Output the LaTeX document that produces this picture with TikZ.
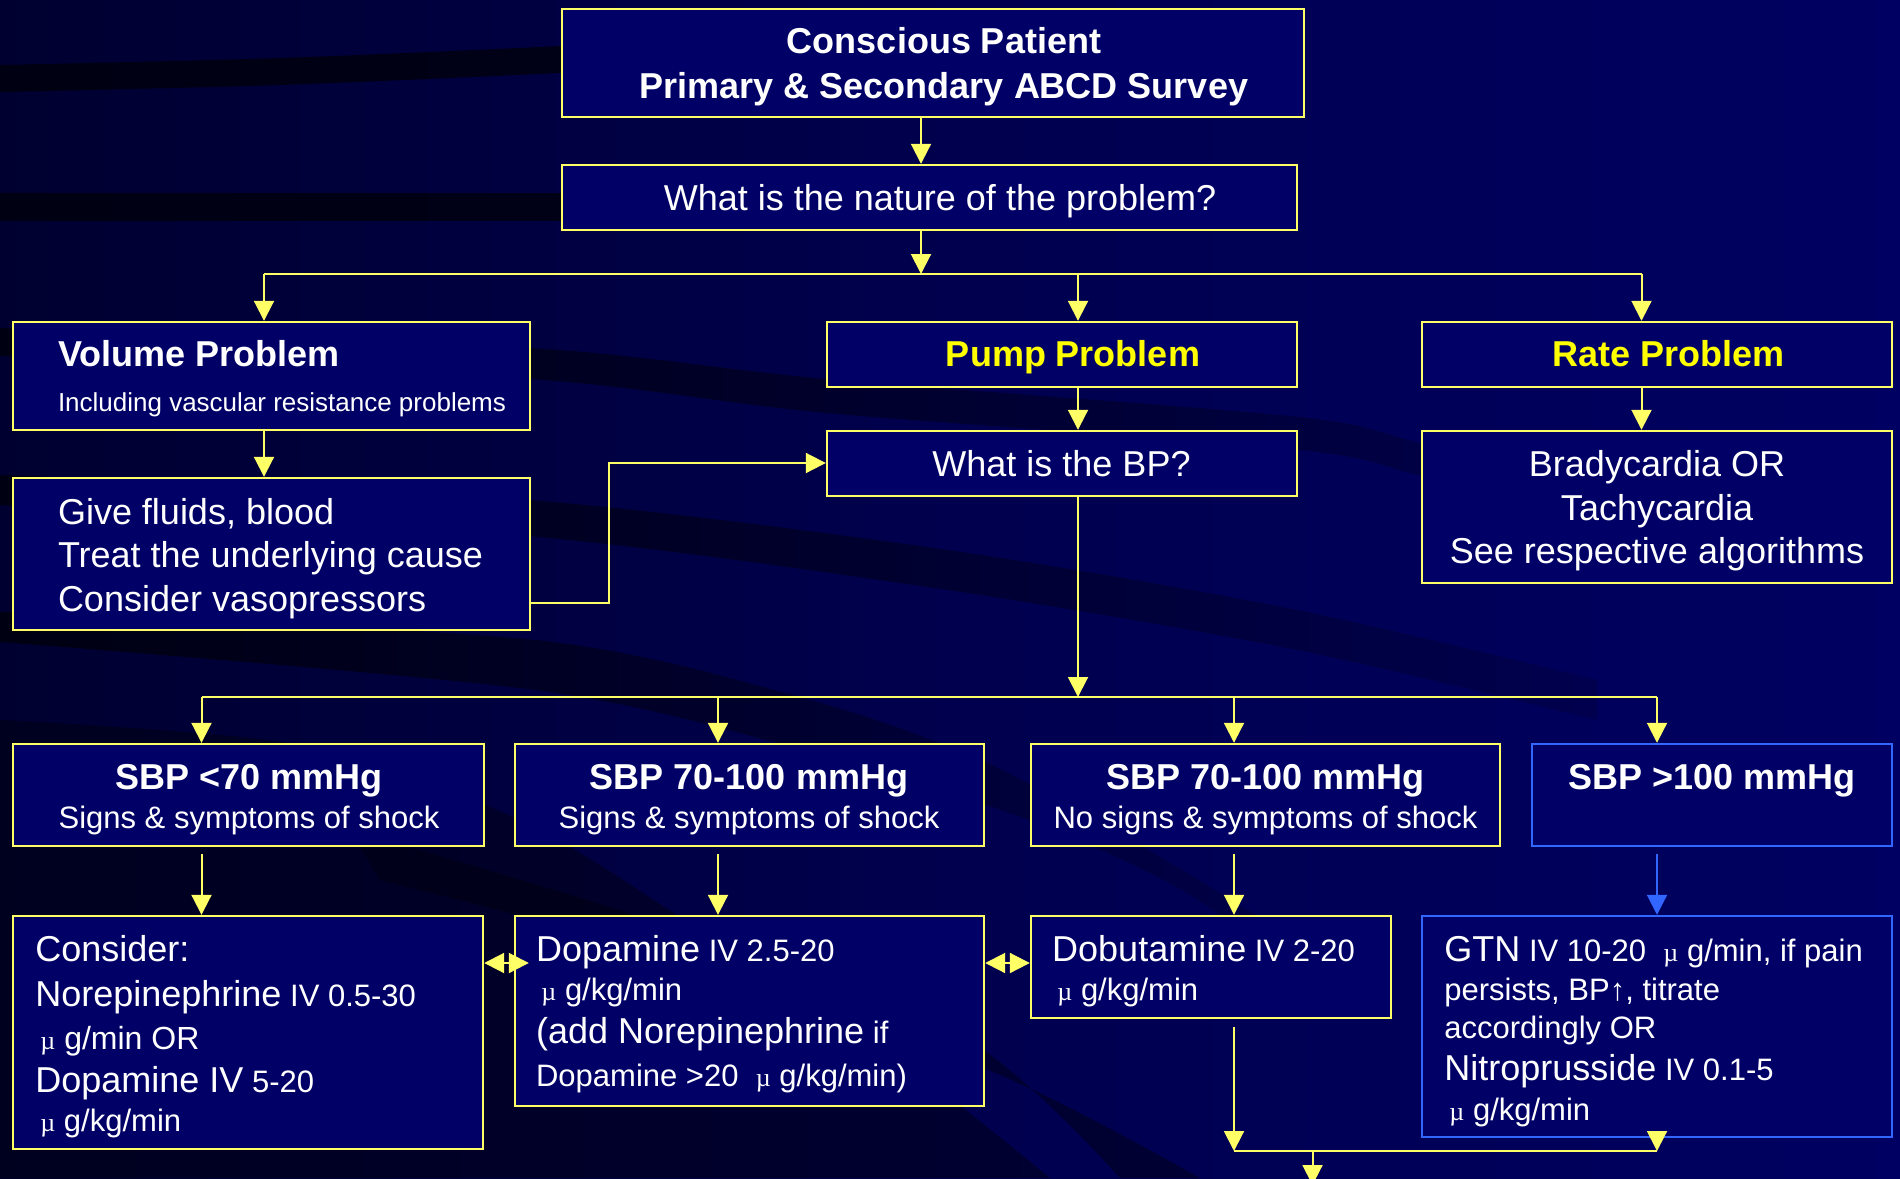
\documentclass[tikz,border=0pt]{standalone}
\usepackage{fontspec}
\setmainfont{Liberation Sans}
\newfontfamily\muface{Liberation Serif}
\usetikzlibrary{arrows.meta,calc,fit,fadings}

\definecolor{bgdark}{RGB}{0,0,48}
\definecolor{bgmid}{RGB}{0,0,78}
\definecolor{bglight}{RGB}{0,0,98}
\definecolor{swoosh}{RGB}{0,0,12}
\definecolor{boxfill}{RGB}{0,0,102}
\definecolor{lineyellow}{RGB}{255,255,102}
\definecolor{titleyellow}{RGB}{255,255,0}
\definecolor{lineblue}{RGB}{51,102,255}

\newcommand\szL{\fontsize{18}{21}\selectfont}
\newcommand\szM{\fontsize{16}{19}\selectfont}
\newcommand\szS{\fontsize{15.5}{18}\selectfont}
\newcommand\szX{\fontsize{13}{15}\selectfont}
\newcommand\mug{{\muface\fontsize{13}{15}\selectfont µ}}

\tikzfading[name=bandfade, left color=transparent!20, right color=transparent!85]

\tikzset{
  box/.style={draw=lineyellow, line width=1.2pt, fill=boxfill, inner sep=0pt},
  bluebox/.style={box, draw=lineblue},
  wire/.style={draw=lineyellow, line width=1pt},
  arr/.style={wire, -{Triangle[length=10pt,width=10pt]}},
  bluearr/.style={draw=lineblue, line width=1pt, -{Triangle[length=10pt,width=10pt]}},
  dblarr/.style={wire, {Triangle[length=10pt,width=10pt]}-{Triangle[length=10pt,width=10pt]}},
  lbl/.style={inner sep=0pt, text=white, anchor=base},
  lblw/.style={lbl, anchor=base west},
  band/.style={fill=swoosh, path fading=bandfade},
  softband/.style={fill=swoosh, opacity=0.45},
}

\begin{document}
\begin{tikzpicture}[x=0.5pt, y=-0.5pt]
\useasboundingbox (0,0) rectangle (1900,1178);

% backdrop and dark swooshes
\shade[left color=bgdark, right color=bglight, middle color=bgmid] (0,0) rectangle (1900,1178);
\fill[swoosh, opacity=0.8] plot[smooth] coordinates {(0,65) (280,58) (560,46) (640,40)}
  -- plot[smooth] coordinates {(640,68) (560,73) (280,85) (0,92)} -- cycle;
\fill[swoosh, opacity=0.8] (0,193) rectangle (640,221);
\fill[band] plot[smooth] coordinates {(0,328) (530,348) (827,379) (1300,417) (1430,445) (1700,500)}
  -- plot[smooth] coordinates {(1700,540) (1430,478) (1300,450) (827,413) (530,379) (0,356)} -- cycle;
\fill[band] plot[smooth] coordinates {(0,475) (530,500) (950,550) (1300,610) (1600,680)}
  -- plot[smooth] coordinates {(1600,720) (1300,650) (950,590) (530,536) (0,505)} -- cycle;
\fill[band] plot[smooth] coordinates {(0,612) (536,640) (804,698) (982,760) (1150,850) (1330,960)}
  -- plot[smooth] coordinates {(1330,1010) (1200,900) (1030,820) (804,750) (536,690) (0,642)} -- cycle;
\fill[softband] plot[smooth] coordinates {(0,720) (300,745) (520,820) (700,930) (900,1060) (1050,1178)}
  -- (0,1178) -- cycle;
\fill[swoosh, opacity=0.45] plot[smooth] coordinates {(350,830) (650,920) (960,1035) (1120,1178)}
  -- plot[smooth] coordinates {(1200,1178) (1000,1075) (680,960) (380,880)} -- cycle;

% boxes
\node[box, fit={(562,9) (1304,117)}] (top) {};
\node[box, fit={(562,165) (1297,230)}] (nature) {};
\node[box, fit={(13,322) (530,430)}] (volume) {};
\node[box, fit={(827,322) (1297,387)}] (pump) {};
\node[box, fit={(1422,322) (1892,387)}] (rate) {};
\node[box, fit={(13,478) (530,630)}] (fluids) {};
\node[box, fit={(827,431) (1297,496)}] (bp) {};
\node[box, fit={(1422,431) (1892,583)}] (brady) {};
\node[box, fit={(13,744) (484,846)}] (sbpA) {};
\node[box, fit={(515,744) (984,846)}] (sbpB) {};
\node[box, fit={(1031,744) (1500,846)}] (sbpC) {};
\node[bluebox, fit={(1532,744) (1892,846)}] (sbpD) {};
\node[box, fit={(13,916) (483,1149)}] (drugA) {};
\node[box, fit={(515,916) (984,1106)}] (drugB) {};
\node[box, fit={(1031,916) (1391,1018)}] (drugC) {};
\node[bluebox, fit={(1422,916) (1892,1137)}] (drugD) {};

% texts
\node[lbl] (topA) at (944,53) {\szL\bfseries Conscious Patient};
\node[lbl] (topB) at (944,98) {\szL\bfseries Primary \& Secondary ABCD Survey};
\node[lbl] (natureT) at (940,210.5) {\szL What is the nature of the problem?};
\node[lblw] (volumeA) at (57.6,366.5) {\szL\bfseries Volume Problem};
\node[lblw] (volumeB) at (57.6,411.5) {\szX Including vascular resistance problems};
\node[lbl, text=titleyellow] (pumpT) at (1073,366.5) {\szL\bfseries Pump Problem};
\node[lbl, text=titleyellow] (rateT) at (1668.5,366.5) {\szL\bfseries Rate Problem};
\node[lbl] (bpT) at (1061.5,476.5) {\szL What is the BP?};
\node[lblw] (fluidsA) at (57.6,524) {\szL Give fluids, blood};
\node[lblw] (fluidsB) at (57.6,567.3) {\szL Treat the underlying cause};
\node[lblw] (fluidsC) at (57.6,611) {\szL Consider vasopressors};
\node[lbl] (bradyA) at (1657,476.7) {\szL Bradycardia OR};
\node[lbl] (bradyB) at (1657,520.7) {\szL Tachycardia};
\node[lbl] (bradyC) at (1657,563.3) {\szL See respective algorithms};

\node[lbl] (sbpAa) at (249,789.3) {\szL\bfseries SBP <70 mmHg};
\node[lbl] (sbpAb) at (249,828.3) {\szS Signs \& symptoms of shock};
\node[lbl] (sbpBa) at (749,789.3) {\szL\bfseries SBP 70-100 mmHg};
\node[lbl] (sbpBb) at (749,828.3) {\szS Signs \& symptoms of shock};
\node[lbl] (sbpCa) at (1265.5,789.3) {\szL\bfseries SBP 70-100 mmHg};
\node[lbl] (sbpCb) at (1265.5,828.3) {\szS No signs \& symptoms of shock};
\node[lbl] (sbpDa) at (1712,789.3) {\szL\bfseries SBP >100 mmHg};

\node[lblw] (drugA1) at (35,961.7) {\szL Consider:};
\node[lblw] (drugA2) at (35,1006) {\szL Norepinephrine{\szS\ IV 0.5-30}};
\node[lblw] (drugA3) at (40,1049) {\szM\mug\ g/min OR};
\node[lblw] (drugA4) at (35,1092.7) {\szL Dopamine IV{\szS\ 5-20}};
\node[lblw] (drugA5) at (40,1131.7) {\szS\mug\ g/kg/min};

\node[lblw] (drugB1) at (535.7,961.7) {\szL Dopamine{\szS\ IV 2.5-20}};
\node[lblw] (drugB2) at (541,1000.7) {\szS\mug\ g/kg/min};
\node[lblw] (drugB3) at (535.7,1043) {\szL (add Norepinephrine{\szS\ if}};
\node[lblw] (drugB4) at (535.7,1086.7) {\szS Dopamine >20\ \ \mug\ g/kg/min)};

\node[lblw] (drugC1) at (1051.8,961.7) {\szL Dobutamine{\szS\ IV 2-20}};
\node[lblw] (drugC2) at (1057,1000.7) {\szS\mug\ g/kg/min};

\node[lblw] (drugD1) at (1444,961.7) {\szL GTN{\szS\ IV 10-20\ \ \mug\ g/min, if pain}};
\node[lblw] (drugD2) at (1444,1000.7) {\szS persists, BP↑, titrate};
\node[lblw] (drugD3) at (1444,1038) {\szS accordingly OR};
\node[lblw] (drugD4) at (1444,1080) {\szL Nitroprusside{\szS\ IV 0.1-5}};
\node[lblw] (drugD5) at (1449,1120) {\szS\mug\ g/kg/min};

% junction points of the connectors
\coordinate (h1) at (921,274);
\coordinate (h1L) at (264,274);
\coordinate (h1M) at (1078,274);
\coordinate (h1R) at (1641.5,274);
\coordinate (k1) at (608.5,603);
\coordinate (k2) at (608.5,463);
\coordinate (h2) at (1078,697);
\coordinate (h2A) at (201.5,697);
\coordinate (h2B) at (718,697);
\coordinate (h2C) at (1234,697);
\coordinate (h2D) at (1657,697);
\coordinate (r1) at (0,963);
\coordinate (h3L) at (1234,1151);
\coordinate (h3M) at (1312.5,1151);
\coordinate (h3R) at (1657,1151);
\coordinate (exit) at (1312.5,1185);

% connectors, upper part
\draw[arr] (top.south -| h1) -- (nature.north -| h1);
\draw[arr] (nature.south -| h1) -- (h1);
\draw[wire] (h1L) -- (h1R);
\draw[arr] (h1L) -- (volume.north -| h1L);
\draw[arr] (h1M) -- (pump.north -| h1M);
\draw[arr] (h1R) -- (rate.north -| h1R);
\draw[arr] (volume.south -| h1L) -- (fluids.north -| h1L);
\draw[arr] (pump.south -| h1M) -- (bp.north -| h1M);
\draw[arr] (rate.south -| h1R) -- (brady.north -| h1R);
\draw[arr] (fluids.east |- k1) -- (k1) -- (k2) -- (bp.west |- k2);

% connectors, blood pressure branches
\draw[arr] (bp.south -| h2) -- (h2);
\draw[wire] (h2A) -- (h2D);
\draw[arr] (h2A) -- (sbpA.north -| h2A);
\draw[arr] (h2B) -- (sbpB.north -| h2B);
\draw[arr] (h2C) -- (sbpC.north -| h2C);
\draw[arr] (h2D) -- (sbpD.north -| h2D);
\draw[arr] ($(sbpA.south -| h2A)+(0,7)$) -- (drugA.north -| h2A);
\draw[arr] ($(sbpB.south -| h2B)+(0,7)$) -- (drugB.north -| h2B);
\draw[arr] ($(sbpC.south -| h2C)+(0,7)$) -- (drugC.north -| h2C);
\draw[bluearr] ($(sbpD.south -| h2D)+(0,7)$) -- (drugD.north -| h2D);

% links between the drug boxes
\draw[dblarr] (drugA.east |- r1) -- ($(drugB.west |- r1)+(15,0)$);
\draw[dblarr] (drugB.east |- r1) -- (drugC.west |- r1);

% connectors, bottom
\draw[arr] ($(drugC.south -| h3L)+(0,8)$) -- (h3L);
\draw[arr] (drugD.south -| h3R) -- (h3R);
\draw[wire] (h3L) -- (h3R);
\draw[arr] (h3M) -- (exit);
\end{tikzpicture}
\end{document}
